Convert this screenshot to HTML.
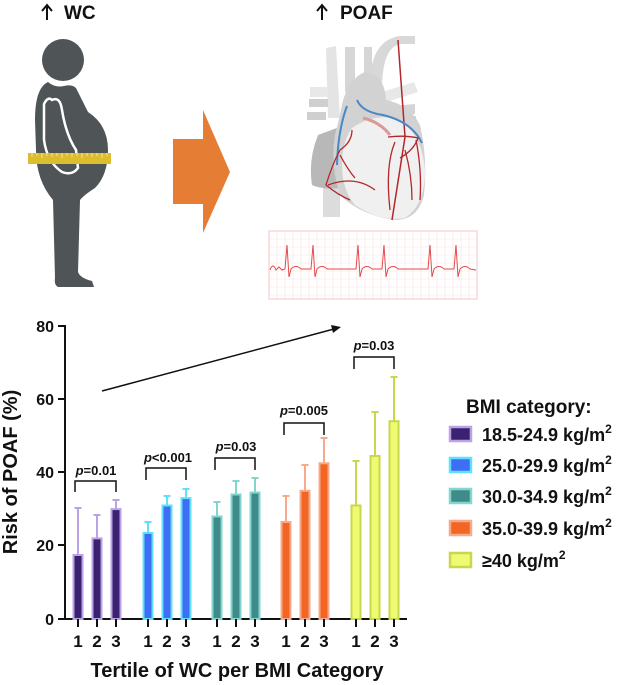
<!DOCTYPE html>
<html><head><meta charset="utf-8"><style>
html,body{margin:0;padding:0;background:#fff;}
svg{display:block;font-family:"Liberation Sans",Arial,sans-serif;}
</style></head><body>
<svg width="619" height="685" viewBox="0 0 619 685" xmlns="http://www.w3.org/2000/svg">
<!-- titles -->
<g stroke="#111" stroke-width="2" fill="none">
<path d="M47 20 V6 M42 11 L47 5 L52 11"/>
<path d="M322 20 V6 M317 11 L322 5 L327 11"/>
</g>
<text x="64" y="19" font-size="19" font-weight="bold" fill="#111">WC</text>
<text x="340" y="19" font-size="19" font-weight="bold" fill="#111">POAF</text>
<!-- person -->
<g fill="#4f5456">
<circle cx="63" cy="60" r="21"/>
<path d="M48 82 Q55 88 64 86 Q72 84 76 88 Q82 100 88 112 Q108 125 108 150 Q108 175 95 188 Q84 195 80 200 L78 272 Q80 278 92 281 L94 287 L58 287 Q54 285 55 278 L53 200 Q36 180 36 150 L35 120 Q35 88 48 82 Z"/>
</g>
<path d="M52 100 Q48 96 44 104 L44 140 Q47 162 62 172 Q72 176 78 168 L76 150 Q66 135 62 110 Q60 96 52 100 Z" fill="none" stroke="#fff" stroke-width="2.5"/>
<rect x="28" y="153" width="83" height="11" fill="#dcbd2e"/>
<g stroke="#f5e58a" stroke-width="1">
<path d="M32 153v4M37 153v3M42 153v5M47 153v3M52 153v4M57 153v3M62 153v5M67 153v3M72 153v4M77 153v3M82 153v5M87 153v3M92 153v4M97 153v3M102 153v5M107 153v3"/>
</g>
<!-- orange arrow -->
<path d="M173 139 H203 V110 L230 172 L203 233 V204 H173 Z" fill="#e57d35"/>
<!-- heart -->
<g>
<path d="M326 48 L336 46 L340 118 L328 118 Z" fill="#e4e4e4"/>
<rect x="345" y="47" width="10" height="45" fill="#d6d6d6"/>
<rect x="364" y="47" width="8" height="40" fill="#d6d6d6"/>
<path d="M370 80 Q372 40 400 36 L415 36 L415 44 L400 44 Q382 48 382 90 Z" fill="#d8d8d8"/>
<path d="M310 87 L328 87 L328 97 L310 97 Z" fill="#e8e8e8"/>
<path d="M309 99 L328 99 L328 107 L309 107 Z" fill="#cfcfcf"/>
<path d="M307 112 L326 112 L326 120 L307 120 Z" fill="#cfcfcf"/>
<path d="M363 98 L414 82 L418 92 L368 108 Z" fill="#e8e8e8"/>
<path d="M393 106 L415 104 L415 114 L393 116 Z" fill="#d4d4d4"/>
<path d="M395 116 L416 116 L416 122 L395 122 Z" fill="#d4d4d4"/>
<rect x="323" y="185" width="17" height="32" fill="#dcdcdc"/>
<path d="M318 135 Q308 160 312 185 Q322 190 342 188 L345 125 Z" fill="#b8b8b8"/>
<path d="M340 115 Q345 80 365 72 Q385 75 386 100 Q410 105 420 125 Q428 160 424 195 Q418 220 395 220 Q360 215 340 195 Q330 165 335 135 Z" fill="#d2d2d2"/>
<path d="M352 128 Q375 112 400 120 Q422 135 425 170 Q425 205 405 218 Q380 222 355 205 Q342 190 342 165 Q342 142 352 128 Z" fill="#f0f0f0"/>
<path d="M398 40 L405 137 L392 220" stroke="#b3262a" stroke-width="1.5" fill="none"/>
<path d="M347 106 Q338 130 337 165" stroke="#4a86c8" stroke-width="2" fill="none"/>
<path d="M357 100 Q362 112 383 115 Q412 122 422 143" stroke="#4a86c8" stroke-width="2" fill="none"/>
<g stroke="#b3262a" stroke-width="1.3" fill="none">
<path d="M352 130 Q352 142 340 150 Q332 165 326 185 Q338 195 350 200"/>
<path d="M340 155 Q348 170 355 178"/>
<path d="M388 137 Q405 135 418 138 Q414 150 400 158"/>
<path d="M395 142 Q385 165 390 210"/>
<path d="M405 150 Q412 175 412 200"/>
<path d="M416 140 Q422 170 420 200"/>
<path d="M328 185 Q355 175 375 190"/>
</g>
<path d="M363 118 Q380 122 390 135" stroke="#d99a9a" stroke-width="3" fill="none"/>
</g>
<!-- ECG -->
<rect x="269" y="231" width="208" height="68" fill="#fff" stroke="#f4c4c4" stroke-width="1"/>
<g stroke="#fae0e0" stroke-width="0.6">
<path d="M277 231v68M285 231v68M293 231v68M301 231v68M309 231v68M317 231v68M325 231v68M333 231v68M341 231v68M349 231v68M357 231v68M365 231v68M373 231v68M381 231v68M389 231v68M397 231v68M405 231v68M413 231v68M421 231v68M429 231v68M437 231v68M445 231v68M453 231v68M461 231v68M469 231v68"/>
<path d="M269 239h208M269 247h208M269 255h208M269 263h208M269 271h208M269 279h208M269 287h208M269 295h208"/>
</g>
<path d="M270 270 Q273 262 276 270 L279 267 L282 270 L285 269 L287 245 L289 277 L291 269 Q296 264 301 269 L311 269 L313 245 L315 277 L317 269 Q322 264 327 269 L356 269 L358 245 L360 277 L362 269 Q367 264 372 269 L382 269 L384 245 L386 277 L388 269 Q393 264 398 269 L428 269 L430 245 L432 277 L434 269 Q439 264 444 269 L454 269 L456 245 L458 277 L460 269 Q465 264 470 269 L476 270" fill="none" stroke="#e34a4a" stroke-width="1"/>

<!-- chart axes -->
<g stroke="#111" stroke-width="2" fill="none">
<path d="M65 325 V619 H407"/>
<path d="M58 326H65M58 399H65M58 472H65M58 545H65M58 619H65"/>
</g>
<g font-size="16" font-weight="bold" fill="#111" text-anchor="end">
<text x="54" y="332">80</text><text x="54" y="405">60</text><text x="54" y="478">40</text><text x="54" y="551">20</text><text x="54" y="625">0</text>
</g>
<g stroke-width="2">
<g stroke="#b9a3e6" fill="#3a2270">
<path d="M78 554 V508 M74.5 508h7M97 538 V515 M93.5 515h7M116 509 V500 M112.5 500h7" fill="none"/>
<rect x="73.5" y="555" width="9" height="64"/><rect x="92.5" y="538.4" width="9" height="80.6"/><rect x="111.5" y="509.1" width="9" height="109.9"/>
</g>
<g stroke="#5fe1fb" fill="#3d6ef5">
<path d="M148 533 V522 M144.5 522h7M167 505 V496 M163.5 496h7M186 498 V489 M182.5 489h7" fill="none"/>
<rect x="143.5" y="532.9" width="9" height="86.1"/><rect x="162.5" y="505.5" width="9" height="113.5"/><rect x="181.5" y="498.1" width="9" height="120.9"/>
</g>
<g stroke="#82d6cf" fill="#3e8b89">
<path d="M217 516 V502 M213.5 502h7M236 494 V481 M232.5 481h7M255 492 V478 M251.5 478h7" fill="none"/>
<rect x="212.5" y="516.5" width="9" height="102.5"/><rect x="231.5" y="494.5" width="9" height="124.5"/><rect x="250.5" y="492.6" width="9" height="126.4"/>
</g>
<g stroke="#f6aa8b" fill="#f26522">
<path d="M286 522 V496 M282.5 496h7M305 491 V465 M301.5 465h7M324 463 V438 M320.5 438h7" fill="none"/>
<rect x="281.5" y="522" width="9" height="97"/><rect x="300.5" y="490.8" width="9" height="128.2"/><rect x="319.5" y="463.3" width="9" height="155.7"/>
</g>
<g stroke="#c9d84a" fill="#eefa72">
<path d="M356 505 V461 M352.5 461h7M375 456 V412 M371.5 412h7M394 421 V377 M390.5 377h7" fill="none"/>
<rect x="351.5" y="505.5" width="9" height="113.5"/><rect x="370.5" y="456" width="9" height="163"/><rect x="389.5" y="421.2" width="9" height="197.8"/>
</g>
</g>
<g stroke="#111" stroke-width="2">
<path d="M78 619v8M97 619v8M116 619v8M148 619v8M167 619v8M186 619v8M217 619v8M236 619v8M255 619v8M286 619v8M305 619v8M324 619v8M356 619v8M375 619v8M394 619v8"/>
</g>
<g font-size="17" font-weight="bold" fill="#111" text-anchor="middle">
<text x="78" y="647">1</text><text x="97" y="647">2</text><text x="116" y="647">3</text>
<text x="148" y="647">1</text><text x="167" y="647">2</text><text x="186" y="647">3</text>
<text x="217" y="647">1</text><text x="236" y="647">2</text><text x="255" y="647">3</text>
<text x="286" y="647">1</text><text x="305" y="647">2</text><text x="324" y="647">3</text>
<text x="356" y="647">1</text><text x="375" y="647">2</text><text x="394" y="647">3</text>
</g>
<text x="237" y="677" font-size="20" font-weight="bold" fill="#111" text-anchor="middle">Tertile of WC per BMI Category</text>
<text transform="translate(17 472) rotate(-90)" font-size="20" font-weight="bold" fill="#111" text-anchor="middle">Risk of POAF (%)</text>
<path d="M102 391 L334 329" stroke="#111" stroke-width="1.5"/>
<path d="M341 327 L331 325 L333 333 Z" fill="#111"/>
<g stroke="#111" stroke-width="1.5" fill="none">
<path d="M75 492 V481 H116 V492"/>
<path d="M146 480 V468 H186 V480"/>
<path d="M215 470 V458 H255 V470"/>
<path d="M284 435 V423 H324 V435"/>
<path d="M354 369 V357 H394 V369"/>
</g>
<g font-size="13" font-weight="bold" fill="#111" text-anchor="middle">
<text x="96" y="475"><tspan font-style="italic">p</tspan>=0.01</text>
<text x="168" y="462"><tspan font-style="italic">p</tspan>&lt;0.001</text>
<text x="236" y="451"><tspan font-style="italic">p</tspan>=0.03</text>
<text x="304" y="415"><tspan font-style="italic">p</tspan>=0.005</text>
<text x="374" y="350"><tspan font-style="italic">p</tspan>=0.03</text>
</g>
<text x="466" y="413" font-size="19" font-weight="bold" fill="#111">BMI category:</text>
<g stroke-width="2.5">
<rect x="450" y="427" width="21" height="14" fill="#3a2270" stroke="#b9a3e6"/>
<rect x="450" y="458" width="21" height="14" fill="#3d6ef5" stroke="#5fe1fb"/>
<rect x="450" y="489" width="21" height="14" fill="#3e8b89" stroke="#82d6cf"/>
<rect x="450" y="521" width="21" height="14" fill="#f26522" stroke="#f6aa8b"/>
<rect x="450" y="553" width="21" height="14" fill="#eefa72" stroke="#c9d84a"/>
</g>
<g font-size="18" font-weight="bold" fill="#111">
<text x="482" y="441">18.5-24.9 kg/m<tspan font-size="12" dy="-8">2</tspan></text>
<text x="482" y="472">25.0-29.9 kg/m<tspan font-size="12" dy="-8">2</tspan></text>
<text x="482" y="503">30.0-34.9 kg/m<tspan font-size="12" dy="-8">2</tspan></text>
<text x="482" y="535">35.0-39.9 kg/m<tspan font-size="12" dy="-8">2</tspan></text>
<text x="482" y="567">≥40 kg/m<tspan font-size="12" dy="-8">2</tspan></text>
</g>
</svg>
</body></html>
